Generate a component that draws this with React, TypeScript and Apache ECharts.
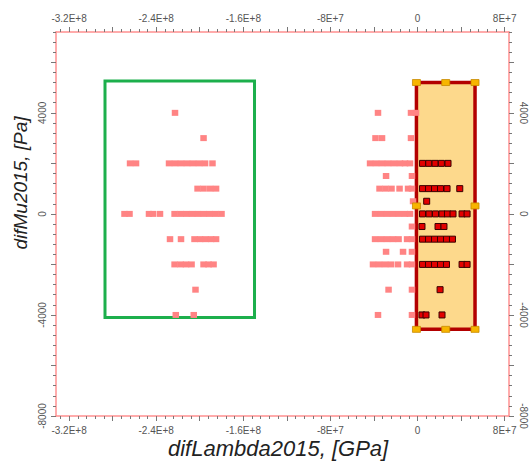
import React, { useEffect, useRef } from "react";
import * as echarts from "echarts";

// ---- axis ranges & tick labels ----
const X_MIN = -3.32e8;
const X_MAX = 8.4e7;
const Y_MIN = -8000;
const Y_MAX = 7200;
const xLabelValues = [-3.2e8, -2.4e8, -1.6e8, -8e7, 0, 8e7];
const yLabelValues = [-8000, -4000, 0, 4000];

// ---- points (x in GPa units as plotted, y in Pa) ----
const unselectedPoints: [number, number][] = [
  [-222.7e6, 4000],
  [-196.5e6, 3000],
  [-264.0e6, 2000], [-258.5e6, 2000], [-228.2e6, 2000], [-222.7e6, 2000], [-217.2e6, 2000],
  [-211.7e6, 2000], [-206.2e6, 2000], [-200.6e6, 2000], [-195.1e6, 2000], [-188.3e6, 2000],
  [-202.0e6, 1000], [-196.5e6, 1000], [-190.5e6, 1000], [-185.0e6, 1000],
  [-269.1e6, 0], [-264.5e6, 0], [-246.6e6, 0], [-242.9e6, 0], [-236.5e6, 0], [-223.1e6, 0],
  [-217.7e6, 0], [-212.4e6, 0], [-207.0e6, 0], [-201.6e6, 0], [-196.2e6, 0], [-190.8e6, 0],
  [-185.4e6, 0], [-180.0e6, 0],
  [-227.3e6, -1000], [-217.2e6, -1000], [-204.8e6, -1000], [-199.7e6, -1000], [-194.7e6, -1000],
  [-189.6e6, -1000], [-185.0e6, -1000],
  [-223.1e6, -2000], [-217.6e6, -2000], [-212.6e6, -2000], [-207.5e6, -2000], [-196.5e6, -2000],
  [-191.9e6, -2000], [-187.3e6, -2000],
  [-203.9e6, -3000],
  [-222.0e6, -4000], [-205.5e6, -4000],
  // right-hand cluster, outside the selection
  [-36.3e6, 4000], [-6.0e6, 4000], [-1.4e6, 4000],
  [-38.6e6, 3000], [-32.6e6, 3000], [-6.0e6, 3000],
  [-43.6e6, 2000], [-38.1e6, 2000], [-32.6e6, 2000], [-27.1e6, 2000], [-21.6e6, 2000],
  [-16.1e6, 2000], [-11.5e6, 2000], [-6.9e6, 2000],
  [-28.9e6, 1500], [-5.1e6, 1500],
  [-34.9e6, 1000], [-29.4e6, 1000], [-23.9e6, 1000], [-16.5e6, 1000], [-8.7e6, 1000], [-5.1e6, 1000],
  [-4.1e6, 500],
  [-39.0e6, 0], [-33.5e6, 0], [-28.0e6, 0], [-22.5e6, 0], [-17.0e6, 0], [-11.5e6, 0], [-6.9e6, 0],
  [-5.1e6, -500],
  [-39.0e6, -1000], [-33.5e6, -1000], [-28.0e6, -1000], [-22.5e6, -1000], [-17.4e6, -1000],
  [-9.6e6, -1000], [-5.1e6, -1000],
  [-28.9e6, -1500], [-13.3e6, -1500], [-5.1e6, -1500],
  [-40.9e6, -2000], [-35.4e6, -2000], [-29.8e6, -2000], [-24.3e6, -2000], [-17.9e6, -2000],
  [-9.6e6, -2000], [-5.1e6, -2000],
  [-26.6e6, -3000], [-5.1e6, -3000],
  [-36.3e6, -4000], [-5.1e6, -4000],
];

const selectedPoints: [number, number][] = [
  [4.6e6, 2000], [10.3e6, 2000], [16.1e6, 2000], [21.9e6, 2000], [28.0e6, 2000],
  [4.6e6, 1000], [10.1e6, 1000], [15.6e6, 1000], [21.1e6, 1000], [27.1e6, 1000], [38.8e6, 1000],
  [8.4e6, 500],
  [4.6e6, 0], [10.6e6, 0], [16.5e6, 0], [22.5e6, 0], [27.5e6, 0], [32.6e6, 0], [40.9e6, 0], [45.5e6, 0],
  [4.1e6, -500], [18.8e6, -500], [24.3e6, -500],
  [4.6e6, -1000], [10.1e6, -1000], [15.6e6, -1000], [21.1e6, -1000], [26.6e6, -1000], [32.1e6, -1000],
  [4.6e6, -2000], [10.1e6, -2000], [15.6e6, -2000], [21.1e6, -2000], [26.6e6, -2000], [40.9e6, -2000],
  [45.5e6, -2000],
  [20.7e6, -3000],
  [4.1e6, -4000], [7.8e6, -4000], [22.5e6, -4000],
];

// ---- selection rectangles: [x1, y1, x2, y2] ----
const greenBox = [-287e6, 5260, -149.7e6, -4100];
const redBox = [-1e6, 5200, 52.8e6, -4570];

function multiples(step: number, lo: number, hi: number): number[] {
  const out: number[] = [];
  const k0 = Math.ceil(lo / step - 1e-9);
  const k1 = Math.floor(hi / step + 1e-9);
  for (let k = k0; k <= k1; k++) out.push(k * step);
  return out;
}

const fmtX = (v: number) => (v === 0 ? "0" : v.toExponential().replace("e", "E"));
const fmtY = (v: number) => String(v);

export default function App() {
  const ref = useRef<HTMLDivElement>(null);
  useEffect(() => {
    if (!ref.current) return;
    document.body.style.margin = "0";
    document.body.style.overflow = "hidden";
    const chart = echarts.init(ref.current, null, { renderer: "svg" });
    const frameColor = "#ff9090";
    const tickColor = "#777";
    const labelStyle = { fontSize: 10, color: "#555", fontFamily: "Liberation Sans, Arial, sans-serif" };

    const xMinor = multiples(8e6, X_MIN, X_MAX);
    const xMid = multiples(4e7, X_MIN, X_MAX);
    const yMinor = multiples(400, Y_MIN, Y_MAX);
    const yMid = multiples(2000, Y_MIN, Y_MAX);

    const xBase = (pos: "top" | "bottom") => ({
      type: "value",
      position: pos,
      min: X_MIN,
      max: X_MAX,
      splitLine: { show: false },
      axisLine: { show: true, onZero: false, lineStyle: { color: frameColor, width: 1.5 } },
      axisTick: { show: true, customValues: xMinor, length: 3, lineStyle: { color: tickColor } },
      axisLabel: { show: true, customValues: xLabelValues, formatter: fmtX, margin: 9, ...labelStyle },
    });
    const xOverlay = (pos: "top" | "bottom") => ({
      type: "value",
      position: pos,
      min: X_MIN,
      max: X_MAX,
      splitLine: { show: false },
      axisLine: { show: false, onZero: false },
      axisTick: { show: true, customValues: xMid, length: 5, lineStyle: { color: tickColor } },
      axisLabel: { show: false },
    });
    const yBase = (pos: "left" | "right") => ({
      type: "value",
      position: pos,
      min: Y_MIN,
      max: Y_MAX,
      splitLine: { show: false },
      axisLine: { show: true, onZero: false, lineStyle: { color: frameColor, width: 1.5 } },
      axisTick: { show: true, customValues: yMinor, length: 3, lineStyle: { color: tickColor } },
      axisLabel: {
        show: true,
        customValues: yLabelValues,
        formatter: fmtY,
        rotate: pos === "left" ? 90 : -90,
        margin: 9,
        ...labelStyle,
      },
    });
    const yOverlay = (pos: "left" | "right") => ({
      type: "value",
      position: pos,
      min: Y_MIN,
      max: Y_MAX,
      splitLine: { show: false },
      axisLine: { show: false, onZero: false },
      axisTick: { show: true, customValues: yMid, length: 5, lineStyle: { color: tickColor } },
      axisLabel: { show: false },
    });

    const midX = (redBox[0] + redBox[2]) / 2;
    const midY = (redBox[1] + redBox[3]) / 2;
    const handles = [
      [redBox[0], redBox[1]], [midX, redBox[1]], [redBox[2], redBox[1]],
      [redBox[0], midY], [redBox[2], midY],
      [redBox[0], redBox[3]], [midX, redBox[3]], [redBox[2], redBox[3]],
    ];

    chart.setOption({
      animation: false,
      backgroundColor: "#ffffff",
      grid: { left: 56, right: 21, top: 32, bottom: 47, containLabel: false },
      xAxis: [xBase("bottom"), xBase("top"), xOverlay("bottom"), xOverlay("top")],
      yAxis: [yBase("left"), yBase("right"), yOverlay("left"), yOverlay("right")],
      graphic: [
        {
          type: "text",
          left: 168,
          top: 437,
          style: {
            text: "difLambda2015, [GPa]",
            fontSize: 22,
            fontStyle: "italic",
            fontFamily: "Liberation Sans, Arial, sans-serif",
            fill: "#222",
          },
        },
        {
          type: "text",
          x: 20,
          y: 183,
          rotation: Math.PI / 2,
          style: {
            text: "difMu2015, [Pa]",
            fontSize: 19,
            fontStyle: "italic",
            fontFamily: "Liberation Sans, Arial, sans-serif",
            fill: "#222",
            align: "center",
            verticalAlign: "middle",
          },
        },
      ],
      series: [
        {
          type: "scatter",
          xAxisIndex: 0,
          yAxisIndex: 0,
          data: [],
          z: 1,
          silent: true,
          markArea: {
            silent: true,
            label: { show: false },
            data: [
              [
                {
                  xAxis: greenBox[0],
                  yAxis: greenBox[1],
                  itemStyle: { color: "rgba(0,0,0,0)", borderColor: "#1caf4c", borderWidth: 3 },
                },
                { xAxis: greenBox[2], yAxis: greenBox[3] },
              ],
              [
                {
                  xAxis: redBox[0],
                  yAxis: redBox[1],
                  itemStyle: { color: "#fdd98c", borderColor: "#b30000", borderWidth: 3.5 },
                },
                { xAxis: redBox[2], yAxis: redBox[3] },
              ],
            ],
          },
        },
        {
          type: "scatter",
          xAxisIndex: 0,
          yAxisIndex: 0,
          z: 2,
          symbol: "rect",
          symbolSize: [6.5, 6],
          itemStyle: { color: "#ff8484", opacity: 1 },
          data: unselectedPoints,
        },
        {
          type: "scatter",
          xAxisIndex: 0,
          yAxisIndex: 0,
          z: 3,
          symbol: "rect",
          symbolSize: [6, 6],
          itemStyle: { color: "#e30000", borderColor: "#3a0000", borderWidth: 1, opacity: 1 },
          data: selectedPoints,
        },
        {
          type: "scatter",
          xAxisIndex: 0,
          yAxisIndex: 0,
          z: 4,
          symbol: "rect",
          symbolSize: [8, 6],
          itemStyle: { color: "#f7b500", borderColor: "#c88a00", borderWidth: 0.8, opacity: 1 },
          data: handles,
        },
      ],
    });
    return () => chart.dispose();
  }, []);
  return (
    <div
      ref={ref}
      style={{ position: "fixed", left: 0, top: 0, width: 530, height: 463 }}
    />
  );
}
